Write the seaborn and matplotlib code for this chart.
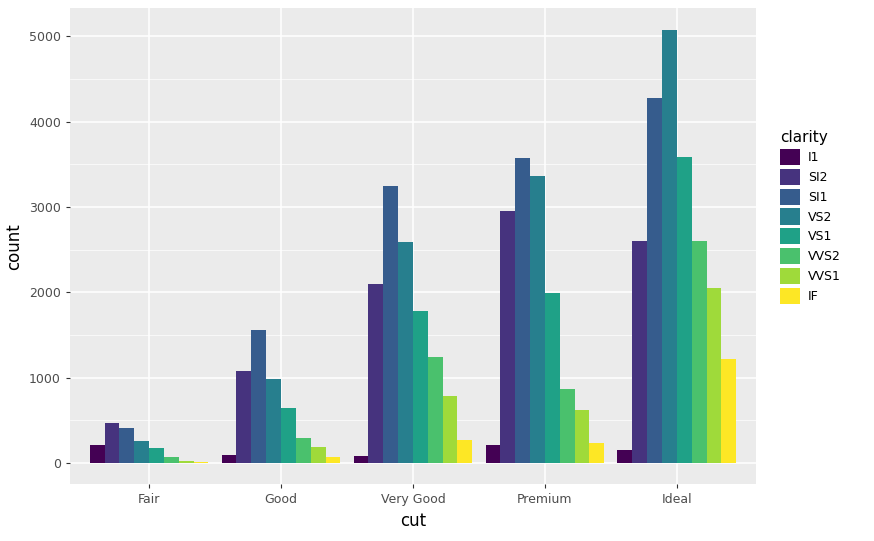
import matplotlib
matplotlib.use("Agg")
import matplotlib.pyplot as plt
import pandas as pd
import seaborn as sns
from matplotlib.patches import Patch

cuts = ["Fair", "Good", "Very Good", "Premium", "Ideal"]
clarities = ["I1", "SI2", "SI1", "VS2", "VS1", "VVS2", "VVS1", "IF"]
counts = {
    "Fair": [210, 466, 408, 261, 170, 69, 17, 9],
    "Good": [96, 1081, 1560, 978, 648, 286, 186, 71],
    "Very Good": [84, 2100, 3240, 2591, 1775, 1235, 789, 268],
    "Premium": [205, 2949, 3575, 3357, 1989, 870, 616, 230],
    "Ideal": [146, 2598, 4282, 5071, 3589, 2606, 2047, 1212],
}
colors = ["#440154", "#46337E", "#365C8D", "#277F8E",
          "#1FA187", "#4AC16D", "#9FDA3A", "#FDE725"]

df = pd.DataFrame(
    [(c, cl, counts[c][i]) for c in cuts for i, cl in enumerate(clarities)],
    columns=["cut", "clarity", "count"],
)

fig = plt.figure(figsize=(8.74, 5.41), dpi=100)
ax = fig.add_axes([0.08, 0.105, 0.785, 0.88])
ax.set_facecolor("#EBEBEB")
sns.barplot(data=df, x="cut", y="count", hue="clarity", order=cuts,
            hue_order=clarities, palette=colors, width=0.9, saturation=1,
            edgecolor="none", linewidth=0, ax=ax, legend=False)

ax.set_ylim(-250, 5330)
ax.set_xlim(-0.6, 4.6)
ax.set_yticks(range(0, 5001, 1000))
ax.set_yticks(range(500, 5001, 1000), minor=True)
ax.grid(True, which="major", color="white", linewidth=1.1)
ax.grid(True, which="minor", axis="y", color="white", linewidth=0.5)
ax.set_axisbelow(True)
for s in ax.spines.values():
    s.set_visible(False)
ax.tick_params(which="both", length=3, color="#333333", labelsize=9, labelcolor="#4D4D4D")
ax.tick_params(which="minor", length=0)
ax.set_xlabel("cut", fontsize=12)
ax.set_ylabel("count", fontsize=12)

handles = [Patch(facecolor=c, label=l) for c, l in zip(colors, clarities)]
fig.legend(handles=handles, title="clarity", loc="upper left",
           bbox_to_anchor=(0.88, 0.78), frameon=False, fontsize=9,
           title_fontsize=11, handlelength=1.6, handleheight=1.6,
           handletextpad=0.6, labelspacing=0.3, alignment="left")

fig.savefig("out.png", dpi=100)
